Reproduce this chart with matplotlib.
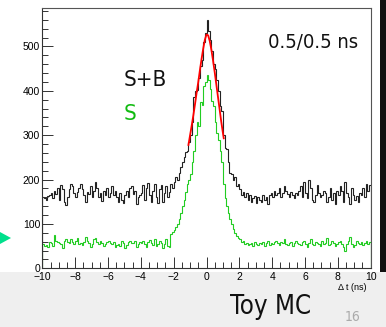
import matplotlib
matplotlib.use("Agg")
import matplotlib.pyplot as plt
from matplotlib.patches import Rectangle, Polygon
from matplotlib.ticker import MultipleLocator, FuncFormatter
import numpy as np

# === Histogram data (200 bins of 0.1 ns from -10 to 10) ===
bin_edges = np.linspace(-10, 10, 201)

sb_counts = [
    160, 158, 155, 162, 165, 170, 158, 175, 168, 180,
    155, 188, 178, 150, 142, 160, 178, 190, 185, 170,
    160, 172, 182, 190, 178, 165, 150, 172, 168, 185,
    160, 175, 195, 182, 160, 170, 152, 175, 165, 180,
    160, 170, 185, 165, 175, 160, 150, 170, 155, 148,
    165, 175, 160, 180, 185, 168, 175, 145, 160, 165,
    170, 188, 155, 180, 192, 165, 150, 175, 190, 160,
    148, 178, 188, 150, 170, 185, 160, 172, 190, 180,
    195, 205, 200, 215, 228, 240, 250, 262, 265, 285,
    300, 330, 385, 400, 402, 430, 455, 470, 510, 530,
    560, 535, 515, 490, 460, 450, 425, 400, 365, 355,
    300, 272, 270, 240, 215, 212, 200, 205, 185, 190,
    178, 165, 172, 160, 170, 155, 165, 150, 158, 162,
    148, 160, 155, 150, 165, 155, 160, 145, 165, 170,
    160, 175, 165, 170, 180, 160, 170, 185, 175, 168,
    160, 172, 165, 158, 170, 165, 175, 185, 160, 195,
    170, 158, 200, 180, 155, 150, 165, 188, 170, 160,
    165, 175, 170, 150, 160, 180, 155, 170, 145, 175,
    165, 185, 175, 150, 195, 170, 160, 145, 180, 165,
    155, 162, 150, 170, 165, 180, 160, 190, 175, 188,
]

s_counts = [
    55, 50, 52, 48, 60, 58, 50, 75, 62, 60,
    58, 55, 45, 62, 65, 60, 58, 65, 60, 55,
    62, 68, 55, 58, 52, 60, 70, 62, 58, 48,
    55, 65, 68, 60, 55, 62, 58, 50, 55, 60,
    62, 58, 55, 60, 48, 52, 55, 50, 62, 58,
    45, 52, 60, 62, 56, 58, 62, 48, 55, 60,
    58, 62, 55, 48, 60, 64, 56, 52, 66, 50,
    55, 62, 58, 45, 55, 65, 50, 48, 78, 82,
    86, 92, 100, 112, 125, 140, 155, 172, 190, 200,
    212, 240, 265, 300, 330, 320, 375, 368, 410, 420,
    435, 425, 405, 378, 365, 330, 305, 290, 265, 240,
    190, 158, 140, 125, 110, 100, 88, 80, 72, 68,
    65, 60, 62, 55, 58, 52, 55, 58, 50, 60,
    55, 52, 58, 55, 60, 50, 56, 62, 52, 58,
    55, 60, 62, 58, 52, 60, 58, 65, 55, 52,
    58, 60, 50, 56, 62, 58, 55, 52, 60, 62,
    55, 48, 58, 66, 55, 52, 60, 58, 55, 50,
    62, 55, 58, 68, 52, 55, 62, 58, 50, 55,
    60, 62, 55, 48, 40, 55, 62, 70, 55, 48,
    52, 62, 58, 55, 60, 52, 58, 62, 55, 60,
]

# gaussian fit curve
fit_x = [-1.1, -1.0, -0.9, -0.8, -0.7, -0.6, -0.5, -0.4, -0.3, -0.2, -0.1, 0.0,
         0.1, 0.2, 0.3, 0.4, 0.5, 0.6, 0.7, 0.8, 0.9, 1.0, 1.05]
fit_y = [278, 300, 322, 345, 370, 396, 420, 447, 472, 495, 515, 527,
         525, 512, 492, 468, 442, 414, 386, 358, 330, 305, 293]

W, H = 386, 327
fig = plt.figure(figsize=(W / 100, H / 100), dpi=100)
fig.patch.set_facecolor("white")

# slide footer band and right edge bar (behind the axes)
fig.patches.append(Rectangle((0, 0), 1, 55 / H, transform=fig.transFigure,
                             facecolor="#efefef", edgecolor="none", zorder=-5))
fig.patches.append(Rectangle((380 / W, 55 / H), 6 / W, 1 - 55 / H, transform=fig.transFigure,
                             facecolor="#111111", edgecolor="none", zorder=-5))
# green bullet arrow on the left
fig.patches.append(Polygon([(0, 1 - 232 / H), (11 / W, 1 - 238 / H), (0, 1 - 244 / H)],
                           closed=True, transform=fig.transFigure,
                           facecolor="#00e08c", edgecolor="none", zorder=-5))

x0, x1 = 42.3, 370.7
y0, y1 = 268.3, 8.3
ax = fig.add_axes([x0 / W, 1 - y0 / H, (x1 - x0) / W, (y0 - y1) / H])

ax.stairs(sb_counts, bin_edges, baseline=0, color="#222222", lw=0.8)
ax.stairs(s_counts, bin_edges, baseline=0, color="#22cc22", lw=0.8)
ax.plot(fit_x, fit_y, color="red", lw=1.3)

ax.set_xlim(-10, 10)
ax.set_ylim(0, 586)

for side in ["left", "bottom"]:
    ax.spines[side].set_color("#333333")
    ax.spines[side].set_linewidth(0.8)
for side in ["top", "right"]:
    ax.spines[side].set_color("#555555")
    ax.spines[side].set_linewidth(0.8)

ax.xaxis.set_major_locator(MultipleLocator(2))
ax.xaxis.set_minor_locator(MultipleLocator(0.5))
ax.yaxis.set_major_locator(MultipleLocator(100))
ax.yaxis.set_minor_locator(MultipleLocator(20))
ax.tick_params(which="both", direction="in", top=False, right=False,
               color="#333333", width=0.7, labelsize=7.5, pad=1.5)
ax.tick_params(which="major", length=8)
ax.tick_params(which="minor", length=4)
ax.tick_params(axis="x", which="major", pad=2.5)
fmt = FuncFormatter(lambda v, p: ("%d" % v).replace("-", "\u2212"))
ax.xaxis.set_major_formatter(fmt)
ax.yaxis.set_major_formatter(fmt)
for lab in ax.get_xticklabels() + ax.get_yticklabels():
    lab.set_family("Liberation Sans")

fig.text(366 / W, 1 - 288 / H, "\u0394 t (ns)", ha="right", va="center",
         fontsize=6.5, family="Liberation Sans")

cond = dict(family="DejaVu Sans", stretch="condensed")
fig.text(313 / W, 1 - 42 / H, "0.5/0.5 ns", ha="center", va="center",
         fontsize=14.5, color="#111111", **cond)
fig.text(124 / W, 1 - 80 / H, "S+B", ha="left", va="center",
         fontsize=16, color="#111111", **cond)
fig.text(124 / W, 1 - 114 / H, "S", ha="left", va="center",
         fontsize=16, color="#11bb11", **cond)
fig.text(271 / W, 1 - 307 / H, "Toy MC", ha="center", va="center",
         fontsize=18.5, color="#111111", **cond)
fig.text(353 / W, 1 - 317 / H, "16", ha="center", va="center",
         fontsize=10, color="#aaaaaa", **cond)

fig.savefig("out.png", dpi=100)
